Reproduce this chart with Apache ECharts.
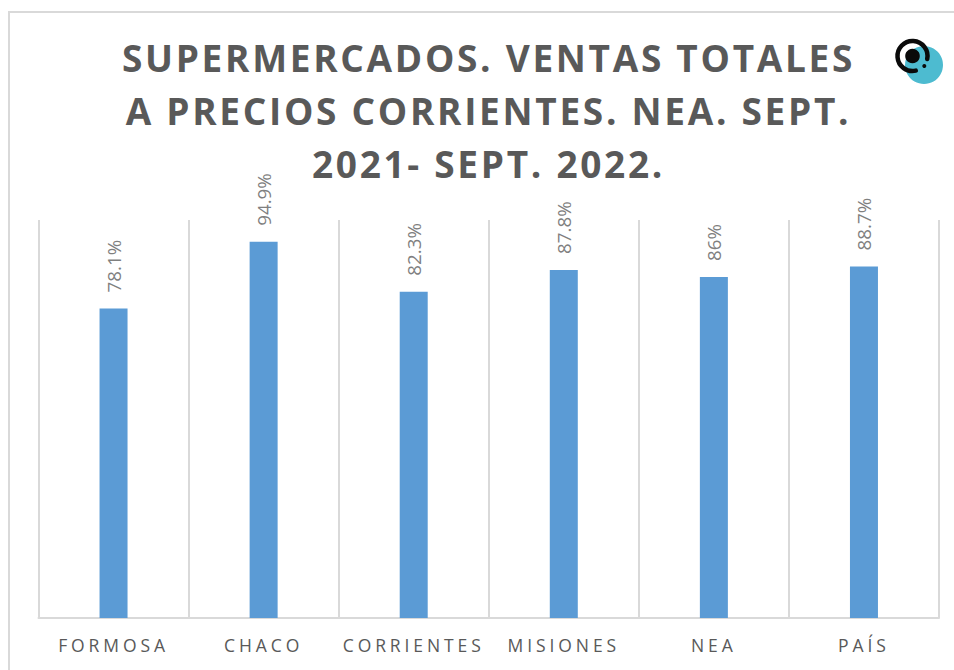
<!DOCTYPE html>
<html><head><meta charset="utf-8">
<style>
html,body{margin:0;padding:0;background:#fff}
#c{width:954px;height:670px}
#c text[style*="37px"]{letter-spacing:2.7px}
#c text[style*="17.5px"]{letter-spacing:3.9px}
</style>
<script src="https://cdn.jsdelivr.net/npm/echarts@6/dist/echarts.min.js"></script>
</head><body><div id="c"></div>
<script>
const categories=['FORMOSA','CHACO','CORRIENTES','MISIONES','NEA','PAÍS'];
const values=[78.1,94.9,82.3,87.8,86,88.7];
const titleLines=['SUPERMERCADOS. VENTAS TOTALES','A PRECIOS CORRIENTES. NEA. SEPT.','2021- SEPT. 2022.'];
const chart=echarts.init(document.getElementById('c'),null,{renderer:'svg'});
chart.setOption({
 animation:false,
 backgroundColor:'#fff',
 title:{text:titleLines.join('\n'),left:483.5,top:26,textAlign:'center',
  textStyle:{fontFamily:'Open Sans',fontWeight:'bold',fontSize:37,lineHeight:53,color:'#595959'}},
 grid:{left:38.5,right:15,top:220,bottom:52},
 xAxis:{type:'category',data:categories,
  axisLine:{lineStyle:{color:'#d9d9d9',width:2}},axisTick:{show:false},
  splitLine:{show:true,interval:0,lineStyle:{color:'#d9d9d9',width:2}},
  axisLabel:{interval:0,color:'#595959',fontFamily:'Open Sans',fontSize:17.5,margin:18}},
 yAxis:{type:'value',min:0,max:100.4,show:false,splitLine:{show:false}},
 series:[{type:'bar',data:values,barWidth:28,
  itemStyle:{color:'#5b9bd5'},
  label:{show:true,position:'top',rotate:90,distance:16,align:'left',verticalAlign:'middle',
   formatter:p=>p.value+'%',color:'#7f7f7f',fontFamily:'Open Sans',fontSize:18.8}}],
 graphic:[
  {type:'polyline',silent:true,shape:{points:[[9,670],[9,12],[954,12]]},style:{fill:'none',stroke:'#d9d9d9',lineWidth:2}},
  {type:'circle',silent:true,shape:{cx:924,cy:65,r:19},style:{fill:'#4dbbd0'}},
  {type:'arc',silent:true,shape:{cx:912.5,cy:56,r:15,startAngle:0.2,endAngle:1.35,clockwise:false},style:{fill:'none',stroke:'#0a0a0a',lineWidth:4.5,lineCap:'round'}},
  {type:'circle',silent:true,shape:{cx:912.5,cy:56,r:7.3},style:{fill:'#0a0a0a'}},
  {type:'circle',silent:true,shape:{cx:924.3,cy:66,r:2},style:{fill:'#0a0a0a'}}
 ]
});
</script></body></html>
